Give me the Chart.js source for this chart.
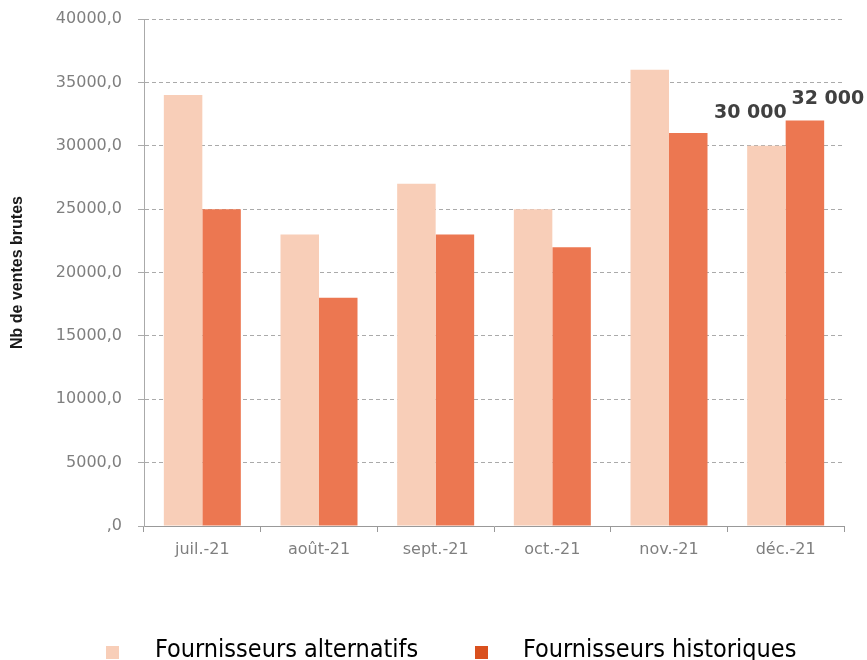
<!DOCTYPE html>
<html>
<head>
<meta charset="utf-8">
<script src="https://cdn.jsdelivr.net/npm/chart.js@4/dist/chart.umd.min.js"></script>
<style>
  body { margin: 0; background: #fff; }
  #wrap { width: 867px; height: 660px; }
</style>
</head>
<body>
<div id="wrap"><canvas id="graphique"></canvas></div>
<script>
const mois = ["juil.-21", "août-21", "sept.-21", "oct.-21", "nov.-21", "déc.-21"]
const alternatifs = [34000, 23000, 27000, 25000, 36000, 30000]
const historiques = [25000, 18000, 23000, 22000, 31000, 32000]
// etiquettes affichees seulement sur le dernier mois
const etiquettesAlt = [null, null, null, null, null, "30 000"]
const etiquettesHist = [null, null, null, null, null, "32 000"]
const nomsSeries = ["Fournisseurs alternatifs", "Fournisseurs historiques"]

const couleurAlt = "#F8CEB8"
const couleurHist = "#EC7751"
const couleursLegende = ["#F8CEB8", "#D9501E"]

// etiquettes de valeur au-dessus des barres
const pluginEtiquettes = {
    id: "etiquettes",
    afterDatasetsDraw(chart) {
        const ctx = chart.ctx
        const decalages = [[-16, 28], [23, 16]]
        const listes = [etiquettesAlt, etiquettesHist]
        ctx.save()
        ctx.font = "bold 19px 'DejaVu Sans'"
        ctx.fillStyle = "#404040"
        ctx.textAlign = "center"
        ctx.textBaseline = "alphabetic"
        for (let d = 0; d < 2; d++) {
            const meta = chart.getDatasetMeta(d)
            meta.data.forEach((el, i) => {
                const txt = listes[d][i]
                if (!txt) return
                ctx.fillText(txt, el.x + decalages[d][0], el.y - decalages[d][1])
            })
        }
        ctx.restore()
    }
}

// legende dessinee a la main (ecart carre / texte plus large que Chart.js)
const pluginLegende = {
    id: "legendeMaison",
    afterDraw(chart) {
        const ctx = chart.ctx
        const positions = [[106, 155], [475, 523]]
        ctx.save()
        ctx.font = "25px 'Liberation Sans Narrow', 'DejaVu Sans Condensed', 'Liberation Sans'"
        ctx.textBaseline = "alphabetic"
        for (let i = 0; i < nomsSeries.length; i++) {
            ctx.fillStyle = couleursLegende[i]
            ctx.fillRect(positions[i][0], 646, 13, 13)
            ctx.fillStyle = "#000"
            ctx.fillText(nomsSeries[i], positions[i][1], 657)
        }
        ctx.restore()
    }
}

const data = {
    labels: mois,
    datasets: [
        {
            label: nomsSeries[0],
            data: alternatifs,
            backgroundColor: couleurAlt,
            borderWidth: 0,
            barPercentage: 1,
            categoryPercentage: 0.66
        },
        {
            label: nomsSeries[1],
            data: historiques,
            backgroundColor: couleurHist,
            borderWidth: 0,
            barPercentage: 1,
            categoryPercentage: 0.66
        }
    ]
}

const config = {
    type: "bar",
    data: data,
    options: {
        responsive: true,
        maintainAspectRatio: false,
        animation: false,
        layout: { padding: { top: 19, right: 23, left: 0, bottom: 0 } },
        plugins: {
            legend: { display: false },
            tooltip: { enabled: false }
        },
        scales: {
            x: {
                afterFit(scale) {
                    scale.height = 134
                    scale.paddingLeft = 0
                    scale.paddingRight = 0
                },
                grid: {
                    offset: true,
                    drawOnChartArea: false,
                    color: "#999",
                    tickLength: 6
                },
                border: { color: "#999", width: 1 },
                ticks: {
                    color: "#7f7f7f",
                    padding: 8,
                    font: { family: "'DejaVu Sans'", size: 16 }
                }
            },
            y: {
                min: 0,
                max: 40000,
                afterFit(scale) {
                    scale.width = 144
                    scale.paddingTop = 0
                    scale.paddingBottom = 0
                },
                grid: {
                    color: "#aaa",
                    tickBorderDash: [],
                    tickLength: 6
                },
                border: { color: "#aaa", width: 1, dash: [4, 3] },
                ticks: {
                    stepSize: 5000,
                    color: "#7f7f7f",
                    padding: 16,
                    font: { family: "'DejaVu Sans'", size: 16 },
                    callback: (v) => (v === 0 ? "" : v) + ",0"
                },
                title: {
                    display: true,
                    text: "Nb de ventes brutes",
                    color: "#1a1a1a",
                    padding: { top: 8, bottom: 0 },
                    font: { family: "'Liberation Sans'", size: 16, weight: "bold" }
                }
            }
        }
    },
    plugins: [pluginEtiquettes, pluginLegende]
}

new Chart(document.querySelector("#graphique"), config)
</script>
</body>
</html>
